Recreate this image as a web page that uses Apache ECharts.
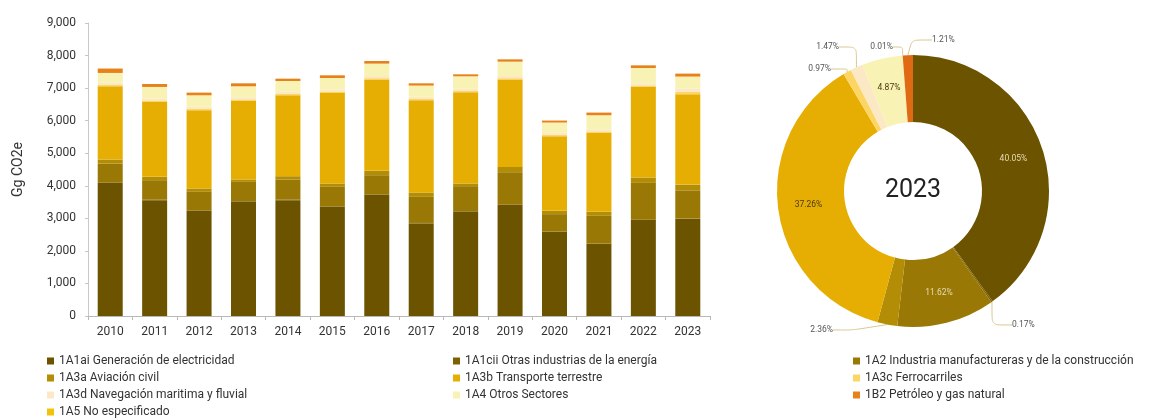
<!DOCTYPE html>
<html>
<head>
<meta charset="utf-8">
<script src="https://cdn.jsdelivr.net/npm/echarts@6/dist/echarts.min.js"></script>
<style>
  html, body { margin: 0; padding: 0; background: #ffffff; }
  #chart { width: 1162px; height: 419px; }
</style>
</head>
<body>
<div id="chart"></div>
<script>
// Emisiones por subcategoría (Gg CO2e), 2010–2023
const years = ['2010','2011','2012','2013','2014','2015','2016','2017','2018','2019','2020','2021','2022','2023'];

const seriesNames = [
  '1A1ai Generación de electricidad',
  '1A1cii Otras industrias de la energía',
  '1A2 Industria manufactureras y de la construcción',
  '1A3a Aviación civil',
  '1A3b Transporte terrestre',
  '1A3c Ferrocarriles',
  '1A3d Navegación maritima y fluvial',
  '1A4 Otros Sectores',
  '1A5 No especificado',
  '1B2 Petróleo y gas natural'
];

const genElectricidad   = [4090, 3558, 3230, 3518, 3558, 3353, 3721, 2843, 3211, 3414, 2577, 2209, 2945, 2982];
const otrasIndustrias   = [15, 15, 15, 15, 15, 15, 15, 15, 15, 15, 15, 15, 15, 13];
const industriaManuf    = [578, 599, 569, 587, 620, 599, 589, 802, 762, 988, 537, 853, 1130, 865];
const aviacionCivil     = [123, 102, 103, 73, 101, 103, 133, 134, 82, 163, 101, 123, 164, 176];
const transporteTerr    = [2249, 2300, 2402, 2412, 2485, 2780, 2803, 2832, 2801, 2681, 2291, 2423, 2781, 2774];
const ferrocarriles     = [45, 45, 45, 45, 45, 45, 45, 45, 45, 45, 45, 45, 45, 72];
const navegacion        = [65, 65, 65, 65, 65, 65, 65, 65, 65, 65, 65, 65, 65, 109];
const otrosSectores     = [300, 351, 350, 340, 329, 350, 380, 341, 381, 441, 311, 433, 472, 363];
const noEspecificado    = [1, 1, 1, 1, 1, 1, 1, 1, 1, 1, 1, 1, 1, 1];
const petroleoGas       = [135, 90, 82, 91, 71, 82, 80, 69, 60, 70, 60, 81, 81, 90];

// Participación por subcategoría en 2023 (%)
const share2023 = [40.05, 0.17, 11.62, 2.36, 37.26, 0.97, 1.47, 4.87, 0.01, 1.21];

const yTicks = [0, 1000, 2000, 3000, 4000, 5000, 6000, 7000, 8000, 9000];

const seriesValues = [genElectricidad, otrasIndustrias, industriaManuf, aviacionCivil, transporteTerr,
                      ferrocarriles, navegacion, otrosSectores, noEspecificado, petroleoGas];

const palette = ['#6b5300', '#7d6004', '#9a7805', '#b38d06', '#e6ae02',
                 '#fdd565', '#fbe8c4', '#f8f2b4', '#f3c20d', '#e7821a'];

const fontFamily = 'Roboto, "Noto Sans", sans-serif';

// Placement of the small-slice callouts around the donut (x, y, alignment)
const calloutPlacement = {
  1: { x: 1012, y: 325, align: 'left' },
  3: { x: 833,  y: 330, align: 'right' },
  5: { x: 831,  y: 69,  align: 'right' },
  6: { x: 839,  y: 47,  align: 'right' },
  8: { x: 893,  y: 47,  align: 'right' },
  9: { x: 932,  y: 40,  align: 'left' }
};

const chart = echarts.init(document.getElementById('chart'), null, { renderer: 'canvas' });

const barSeries = seriesNames.map((name, i) => ({
  name: name,
  type: 'bar',
  stack: 'total',
  barWidth: 25,
  itemStyle: { color: palette[i] },
  data: seriesValues[i]
}));

const pieSeries = {
  name: '2023',
  type: 'pie',
  center: [913, 191],
  radius: [69, 136],
  startAngle: 90,
  clockwise: true,
  avoidLabelOverlap: false,
  label: {
    fontFamily: fontFamily,
    fontSize: 8.5,
    color: '#555'
  },
  labelLine: {
    length: 10,
    length2: 20,
    smooth: 0.2,
    lineStyle: { color: '#d8c68f', width: 1 }
  },
  labelLayout: function (params) {
    const p = calloutPlacement[params.dataIndex];
    if (!p) return {};
    return { x: p.x, y: p.y, align: p.align, verticalAlign: 'middle' };
  },
  data: seriesNames.map((name, i) => {
    const big = share2023[i] >= 4;
    return {
      name: name,
      value: share2023[i],
      itemStyle: { color: i === 9 ? '#e06a14' : palette[i] },
      label: {
        position: big ? 'inside' : 'outside',
        formatter: share2023[i].toFixed(2) + '%',
        color: big ? (i <= 2 ? '#e9dcb4' : '#4a3a10') : '#555'
      },
      labelLine: { show: !big }
    };
  })
};

const legendText = { fontFamily: fontFamily, fontSize: 12, color: '#333', lineHeight: 12 };
const legendBase = {
  orient: 'vertical',
  top: 350,
  height: 80,
  itemWidth: 7,
  itemHeight: 7,
  itemGap: 5,
  icon: 'rect',
  textStyle: legendText,
  selectedMode: false
};

chart.setOption({
  animation: false,
  textStyle: { fontFamily: fontFamily },
  grid: { left: 88, right: 452, top: 23, bottom: 103, containLabel: false },
  legend: [
    Object.assign({}, legendBase, { left: 42, data: [seriesNames[0], seriesNames[3], seriesNames[6], seriesNames[8]] }),
    Object.assign({}, legendBase, { left: 448, data: [seriesNames[1], seriesNames[4], seriesNames[7]] }),
    Object.assign({}, legendBase, { left: 848, data: [seriesNames[2], seriesNames[5], seriesNames[9]] })
  ],
  xAxis: {
    type: 'category',
    data: years,
    axisLine: { lineStyle: { color: '#b8b8b8' } },
    axisTick: { show: true, length: 4, lineStyle: { color: '#b8b8b8' } },
    axisLabel: { fontSize: 12, color: '#333', margin: 10 }
  },
  yAxis: {
    type: 'value',
    min: yTicks[0],
    max: yTicks[yTicks.length - 1],
    interval: yTicks[1] - yTicks[0],
    name: 'Gg CO2e',
    nameLocation: 'middle',
    nameGap: 63,
    nameTextStyle: { fontSize: 14, color: '#333' },
    axisLine: { show: true, lineStyle: { color: '#c8c8c8' } },
    axisTick: { show: true, length: 3, lineStyle: { color: '#c8c8c8' } },
    splitLine: { show: false },
    axisLabel: {
      fontSize: 12,
      color: '#333',
      margin: 12,
      formatter: v => v.toLocaleString('en-US')
    }
  },
  graphic: [{
    type: 'text',
    x: 913,
    y: 191,
    style: {
      text: '2023',
      fontFamily: fontFamily,
      fontSize: 25,
      fill: '#222',
      align: 'center',
      verticalAlign: 'middle'
    }
  }],
  series: barSeries.concat([pieSeries])
});
</script>
</body>
</html>
